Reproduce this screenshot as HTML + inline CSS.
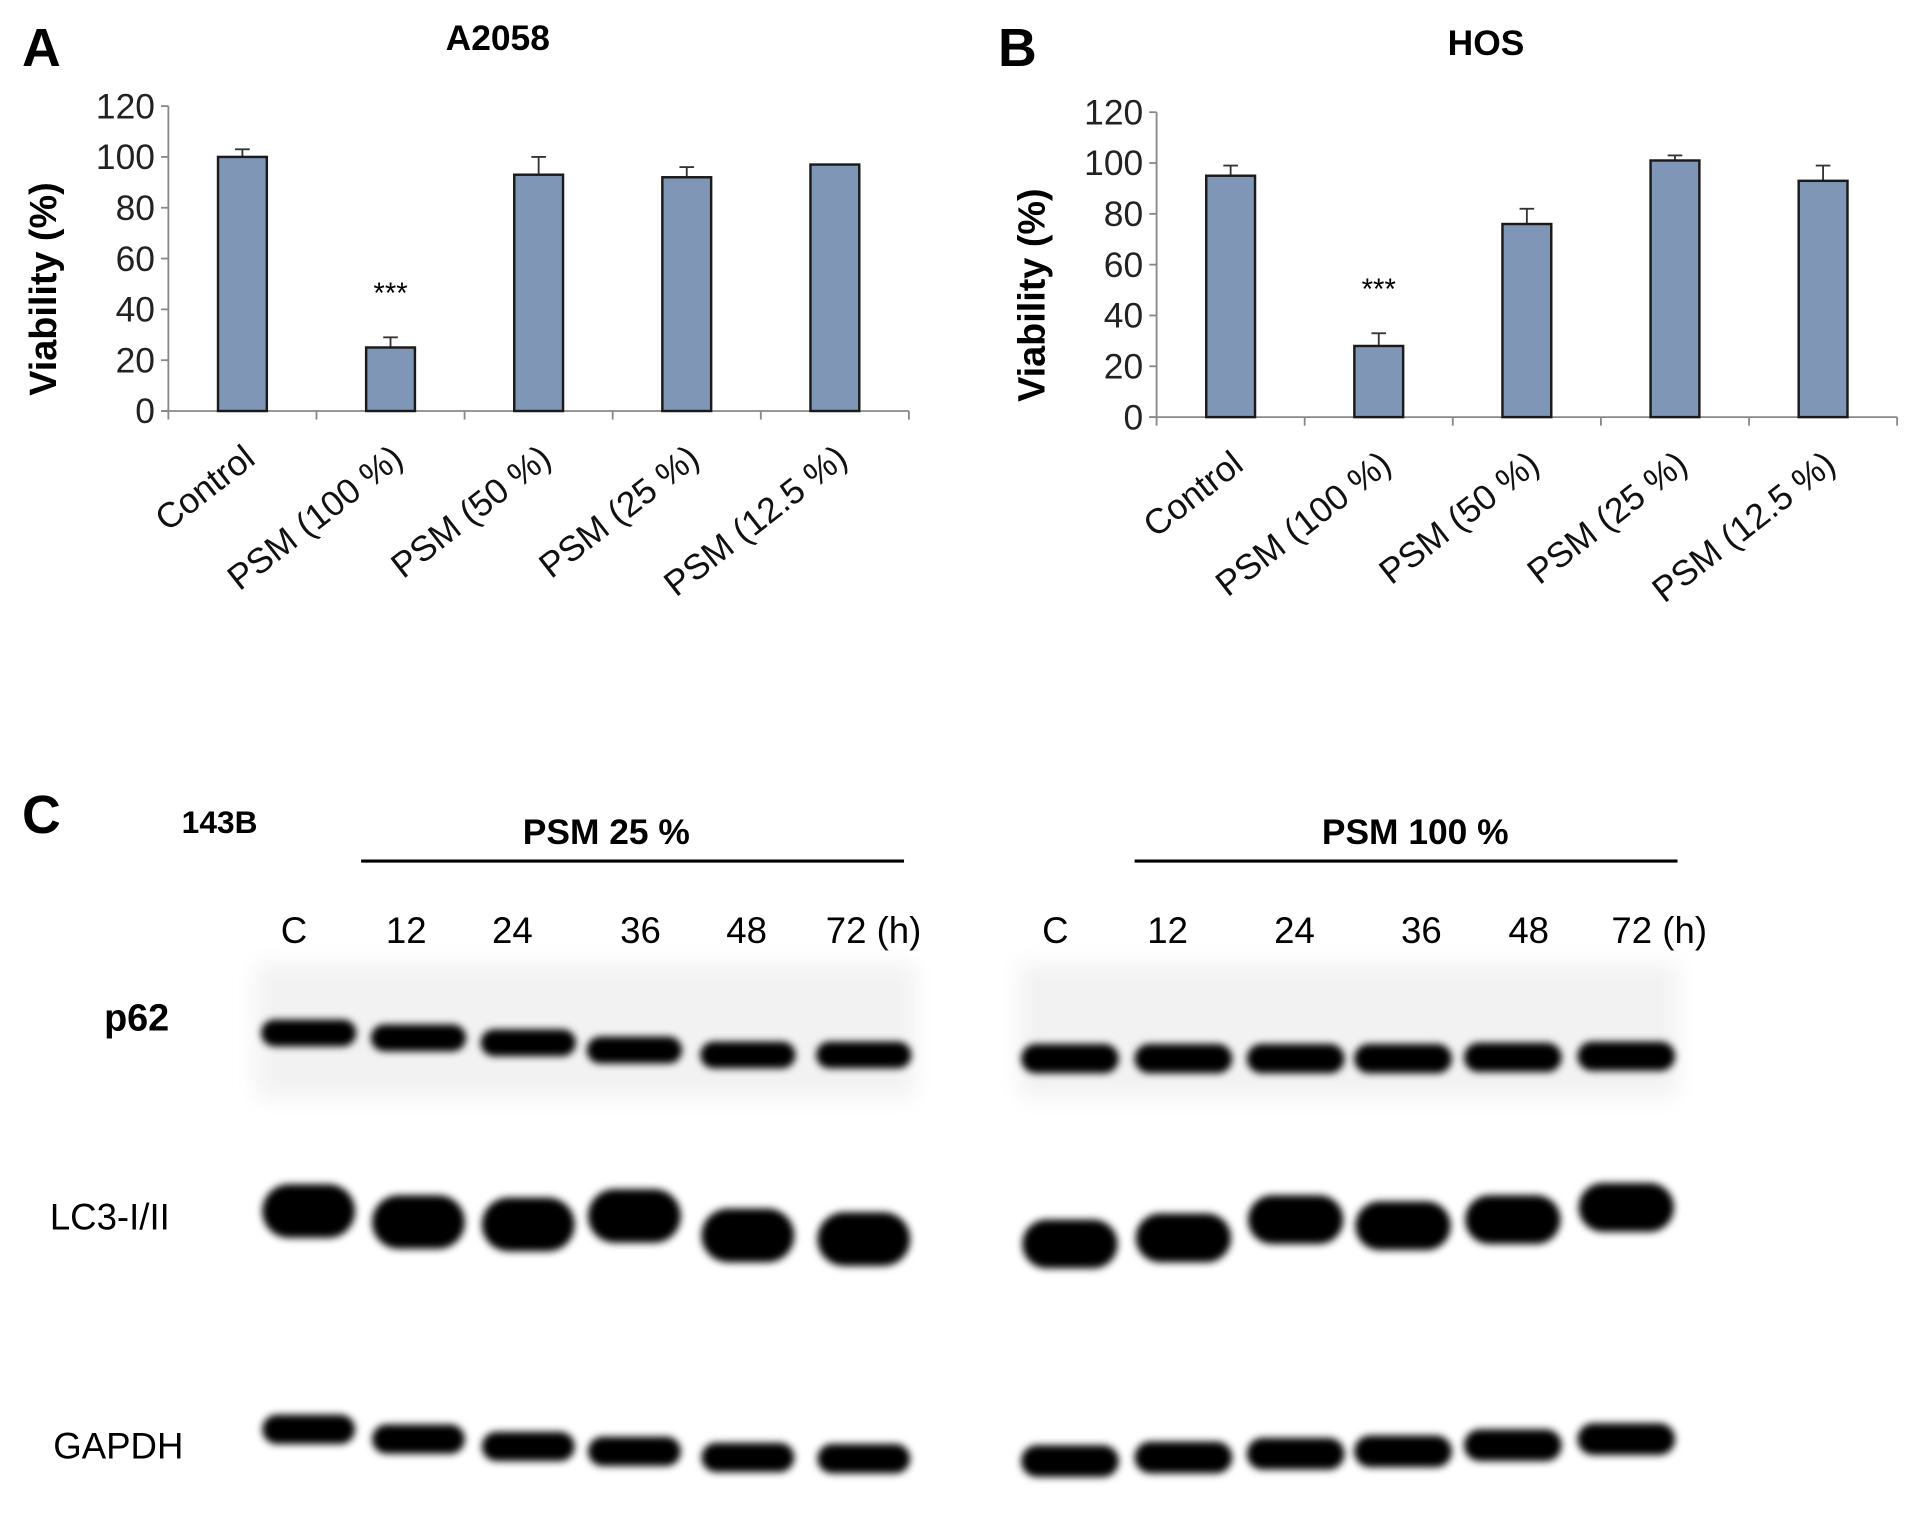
<!DOCTYPE html>
<html><head><meta charset="utf-8"><style>
html,body{margin:0;padding:0;background:#fff;}
svg{display:block;}
text{font-family:"Liberation Sans",Arial,sans-serif;}
</style></head><body>
<svg id="fig" width="1913" height="1516" viewBox="0 0 1568 1243" preserveAspectRatio="none" xmlns="http://www.w3.org/2000/svg">
<defs>
<filter id="blur" x="-30%" y="-100%" width="160%" height="300%"><feGaussianBlur stdDeviation="3"/></filter>
<filter id="blur2" x="-30%" y="-100%" width="160%" height="300%"><feGaussianBlur stdDeviation="9"/></filter>
</defs>
<text x="18" y="54" font-size="44" font-weight="bold">A</text>
<text x="408" y="41" font-size="29" font-weight="bold" text-anchor="middle">A2058</text>
<text x="818" y="54" font-size="44" font-weight="bold">B</text>
<text x="1218" y="45" font-size="29" font-weight="bold" text-anchor="middle">HOS</text>
<text x="18" y="683" font-size="44" font-weight="bold">C</text>
<text x="180" y="683" font-size="26" font-weight="bold" text-anchor="middle">143B</text>
<text x="497" y="692" font-size="29" font-weight="bold" text-anchor="middle">PSM 25 %</text>
<line x1="296" y1="706" x2="741" y2="706" stroke="#000" stroke-width="2.5"/>
<text x="1160" y="692" font-size="29" font-weight="bold" text-anchor="middle">PSM 100 %</text>
<line x1="930" y1="706" x2="1375" y2="706" stroke="#000" stroke-width="2.5"/>
<text x="112" y="845" font-size="31" font-weight="bold" text-anchor="middle">p62</text>
<text x="90" y="1008" font-size="30" text-anchor="middle">LC3-I/II</text>
<text x="97" y="1196" font-size="30" text-anchor="middle">GAPDH</text>
<g id="charts"></g>
<g id="blot"></g>
</svg>
<script>
const categories = ["Control","PSM (100 %)","PSM (50 %)","PSM (25 %)","PSM (12.5 %)"];
const valuesA = [100,25,93,92,97];
const errorsA = [3,4,7,4,0];
const valuesB = [95,28,76,101,93];
const errorsB = [4,5,6,2,6];
const yTicks = [0,20,40,60,80,100,120];
const sigA = [null,"***",null,null,null];
const sigB = [null,"***",null,null,null];
const timeLabels = ["C","12","24","36","48","72 (h)"];

const NS="http://www.w3.org/2000/svg";
function mk(tag, attrs, parent){const e=document.createElementNS(NS,tag);for(const k in attrs)e.setAttribute(k,attrs[k]);parent.appendChild(e);return e;}
const charts=document.getElementById('charts');

function drawChart(ax, vals, errs, sig, key){
  const yS=v=>ax.y0-(v/120)*(ax.y0-ax.y120);
  const bw=(ax.x1-ax.x0)/categories.length;
  const xC=i=>ax.x0+bw*(i+0.5);
  const g=mk('g',{},charts);
  
  
  const yl=mk('line',{x1:ax.x0,y1:ax.y120,x2:ax.x0,y2:ax.y0,stroke:'#888','stroke-width':1.5},g);
  
  
  const xl=mk('line',{x1:ax.x0-6,y1:ax.y0,x2:ax.x1,y2:ax.y0,stroke:'#888','stroke-width':1.5},g);
  
  
  yTicks.forEach(t=>{
    mk('line',{x1:ax.x0-6,y1:yS(t),x2:ax.x0,y2:yS(t),stroke:'#888','stroke-width':1.5},g);
    const tx=mk('text',{x:ax.x0-11,y:yS(t)+10,'font-size':29,'text-anchor':'end',fill:'#222'},g);
    tx.textContent=t;
    
    
  });
  for(let i=0;i<=categories.length;i++){
    mk('line',{x1:ax.x0+bw*i,y1:ax.y0,x2:ax.x0+bw*i,y2:ax.y0+7,stroke:'#888','stroke-width':1.5},g);
  }
  const ytl=mk('text',{x:0,y:0,'font-size':31,'font-weight':'bold','text-anchor':'middle',transform:`translate(${ax.x0-92},${ax.y0-100}) rotate(-90)`},g);
  ytl.textContent='Viability (%)';
  
  
  vals.forEach((v,i)=>{
    const cx=xC(i);
    const e=errs[i];
    const el=mk('line',{x1:cx,y1:yS(v),x2:cx,y2:yS(v+e),stroke:'#333','stroke-width':1.5},g);
    
    
    mk('line',{x1:cx-6,y1:yS(v+e),x2:cx+6,y2:yS(v+e),stroke:'#333','stroke-width':1.5},g);
    const b=mk('rect',{x:cx-20,y:yS(v),width:40,height:ax.y0-yS(v),fill:'#7f96b6',stroke:'#1a1a1a','stroke-width':2},g);
    
    
    if(sig[i]){
      const s=mk('text',{x:cx,y:yS(v+e)-28,'font-size':24,'text-anchor':'middle'},g);
      s.textContent=sig[i];
      
      
    }
    const lb=mk('text',{x:0,y:0,'font-size':29,'text-anchor':'end',fill:'#111',transform:`translate(${cx+12},${ax.y0+42}) rotate(-38)`},g);
    lb.textContent=categories[i];
    
    
  });
}
drawChart({x0:138,x1:745,y0:337,y120:87},valuesA,errorsA,sigA,'a2058');
drawChart({x0:948,x1:1555,y0:342,y120:92},valuesB,errorsB,sigB,'hos');

// western blot
const blot=document.getElementById('blot');
const laneXLeft=[253,343,433,520,613,708];
const laneXRight=[877,970,1062,1150,1240,1333];
const labelXLeft=[241,333,420,525,612,716];
const labelXRight=[865,957,1061,1165,1253,1360];
const p62Left=[847,851,855,861,865,865];
const p62Right=[868,868,868,868,867,866];
const lc3Left=[993,1002,1004,997,1013,1016];
const lc3Right=[1020,1015,1000,1005,1000,990];
const gapLeft=[1172,1180,1186,1190,1195,1196];
const gapRight=[1198,1195,1192,1190,1185,1180];
[[labelXLeft,'left'],[labelXRight,'right']].forEach(([xs,side])=>{
  xs.forEach((x,i)=>{
    const t=mk('text',{x:x,y:773,'font-size':30,'text-anchor':'middle'},blot);
    t.textContent=timeLabels[i];
    
    
  });
});
mk('rect',{x:210,y:790,width:540,height:110,fill:'#f2f2f2',filter:'url(#blur2)'},blot);
mk('rect',{x:835,y:790,width:540,height:110,fill:'#f2f2f2',filter:'url(#blur2)'},blot);
function bands(xs,ys,h,w,name){
  xs.forEach((x,i)=>{
    const r=mk('rect',{x:x-w/2,y:ys[i]-h/2,width:w,height:h,rx:h/2,fill:'#000',filter:'url(#blur)'},blot);
    
    
  });
}
bands(laneXLeft,p62Left,22,78,'p62-left');
bands(laneXRight,p62Right,24,80,'p62-right');
bands(laneXLeft,lc3Left,44,76,'lc3-left');
bands(laneXRight,lc3Right,40,78,'lc3-right');
bands(laneXLeft,gapLeft,24,76,'gapdh-left');
bands(laneXRight,gapRight,26,80,'gapdh-right');
</script>
</body></html>
